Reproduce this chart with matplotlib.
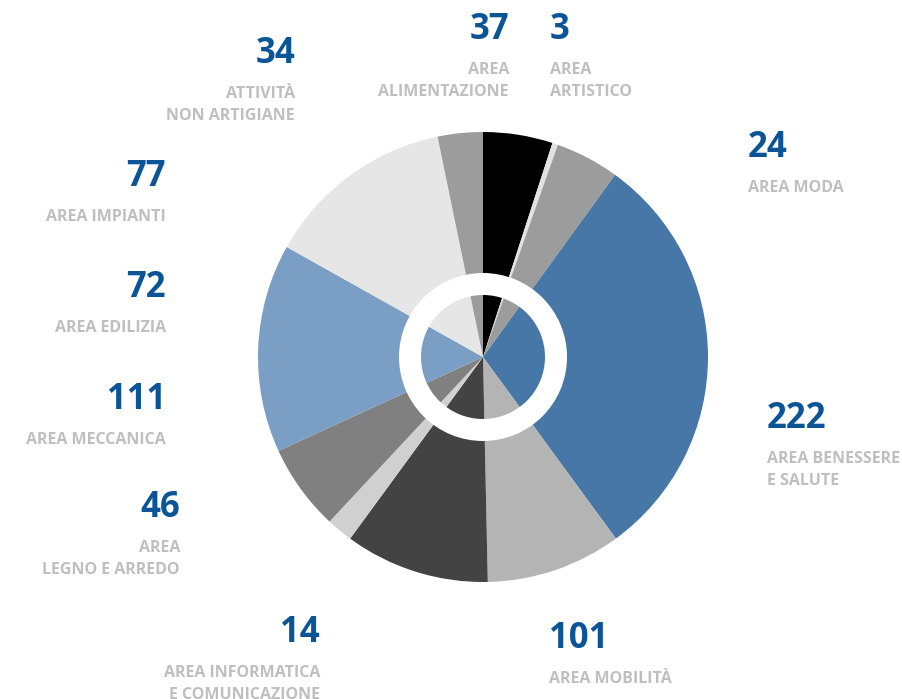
import matplotlib
matplotlib.use('Agg')
import matplotlib.pyplot as plt
from matplotlib.patches import Wedge

# dati (ordine alfabetico, senso orario da ore 12)
categorie = ['AREA\nALIMENTAZIONE', 'AREA\nARTISTICO', 'ATTIVITÀ\nNON ARTIGIANE',
             'AREA BENESSERE\nE SALUTE', 'AREA EDILIZIA', 'AREA IMPIANTI',
             'AREA INFORMATICA\nE COMUNICAZIONE', 'AREA\nLEGNO E ARREDO',
             'AREA MECCANICA', 'AREA MOBILITÀ', 'AREA MODA']
valori = [37, 3, 34, 222, 72, 77, 14, 46, 111, 101, 24]
colori = ['#000000', '#e2e2e2', '#9c9c9c', '#4677a6', '#b4b4b4', '#434343',
          '#d0d0d0', '#808080', '#7b9fc4', '#e6e6e6', '#9c9c9c']

# posizione etichette in pixel (x, y del numero, allineamento)
pos_etichette = [(509, 30, 'right'), (550, 30, 'left'), (295, 54, 'right'),
                 (767, 419, 'left'), (166, 288, 'right'), (166, 177, 'right'),
                 (320, 633, 'right'), (180, 508, 'right'), (166, 400, 'right'),
                 (549, 639, 'left'), (748, 148, 'left')]

W, H = 902, 699
cx, cy, R = 483, 357, 225

fig = plt.figure(figsize=(W / 100, H / 100), dpi=100)
ax = fig.add_axes([0, 0, 1, 1])
ax.set_xlim(0, W)
ax.set_ylim(0, H)
ax.set_aspect('equal')
ax.axis('off')

ax.pie(valori, colors=colori, startangle=90, counterclock=False,
       center=(cx, H - cy), radius=R, wedgeprops=dict(linewidth=0))
ax.set_xlim(0, W)
ax.set_ylim(0, H)

# anello bianco interno
ax.add_patch(Wedge((cx, H - cy), 84, 0, 360, width=22, facecolor='white', linewidth=0))

font = 'Open Sans'
for val, lab, (x, y, ha) in zip(valori, categorie, pos_etichette):
    ax.text(x, H - y, str(val), ha=ha, va='center', fontsize=25, fontweight='bold',
            color='#0b5596', family=font)
    for i, riga in enumerate(lab.split('\n')):
        ax.text(x, H - (y + 40 + 22 * i), riga, ha=ha, va='center', fontsize=11.5,
                fontweight='bold', color='#bfbfbf', family=font)

fig.savefig('out.png', dpi=100)
